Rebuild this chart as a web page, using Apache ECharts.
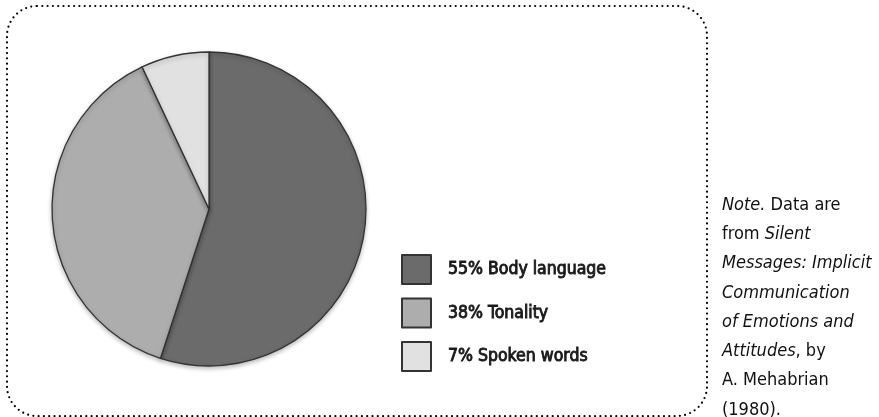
<!DOCTYPE html>
<html>
<head>
<meta charset="utf-8">
<script src="https://cdn.jsdelivr.net/npm/echarts@6/dist/echarts.min.js"></script>
<style>
html,body{margin:0;padding:0;background:#fff;}
#c{width:879px;height:417px;}
</style>
</head>
<body>
<div id="c"></div>
<script>
const categories = ['Body language', 'Tonality', 'Spoken words'];
const values = [55, 38, 7];
const colors = ['#6b6b6b', '#adadad', '#e1e1e1'];
const noteLines = [
  '{i|Note.} Data are',
  'from {i|Silent}',
  '{i|Messages: Implicit}',
  '{i|Communication}',
  '{i|of Emotions and}',
  '{i|Attitudes}, by',
  'A. Mehabrian',
  '(1980).'
];

const chart = echarts.init(document.getElementById('c'), null, {renderer: 'canvas'});
const legendFont = '"DejaVu Sans Condensed", sans-serif';
const noteFont = '"DejaVu Sans Condensed", sans-serif';

const noteElems = noteLines.map((t, k) => ({
  type: 'text',
  left: 722,
  top: 196 + k * 29.3,
  style: {
    text: t,
    font: '18px ' + noteFont,
    fill: '#111',
    rich: {
      i: {fontStyle: 'italic', fontSize: 18, fontFamily: noteFont, fill: '#111'}
    }
  }
}));

chart.setOption({
  animation: false,
  backgroundColor: '#fff',
  graphic: [
    {
      type: 'rect',
      shape: {x: 7, y: 6, width: 700, height: 410, r: 30},
      style: {fill: 'none', stroke: '#000', lineWidth: 2.2, lineDash: [0, 5.3], lineCap: 'round'},
      z: -1
    }
  ].concat(noteElems),
  legend: {
    orient: 'vertical',
    left: 396,
    top: 249,
    itemWidth: 29,
    itemHeight: 29,
    itemGap: 12.5,
    icon: 'rect',
    data: categories,
    formatter: function (name) {
      const i = categories.indexOf(name);
      return values[i] + '% ' + name;
    },
    textStyle: {
      fontSize: 17.5, fontWeight: 'normal', color: '#1a1a1a', fontFamily: legendFont,
      textBorderColor: '#1a1a1a', textBorderWidth: 0.9,
      lineHeight: 29, padding: [0, 0, 0, 12]
    }
  },
  series: [{
    type: 'pie',
    center: [209, 209],
    radius: 157,
    startAngle: 90,
    clockwise: true,
    label: {show: false},
    labelLine: {show: false},
    emphasis: {disabled: true},
    data: categories.map((c, i) => ({
      name: c,
      value: values[i],
      itemStyle: {color: colors[i], borderColor: '#333', borderWidth: 1.3}
    })),
    itemStyle: {shadowBlur: 4, shadowColor: 'rgba(0,0,0,0.25)', shadowOffsetY: 2}
  }]
});
</script>
</body>
</html>
